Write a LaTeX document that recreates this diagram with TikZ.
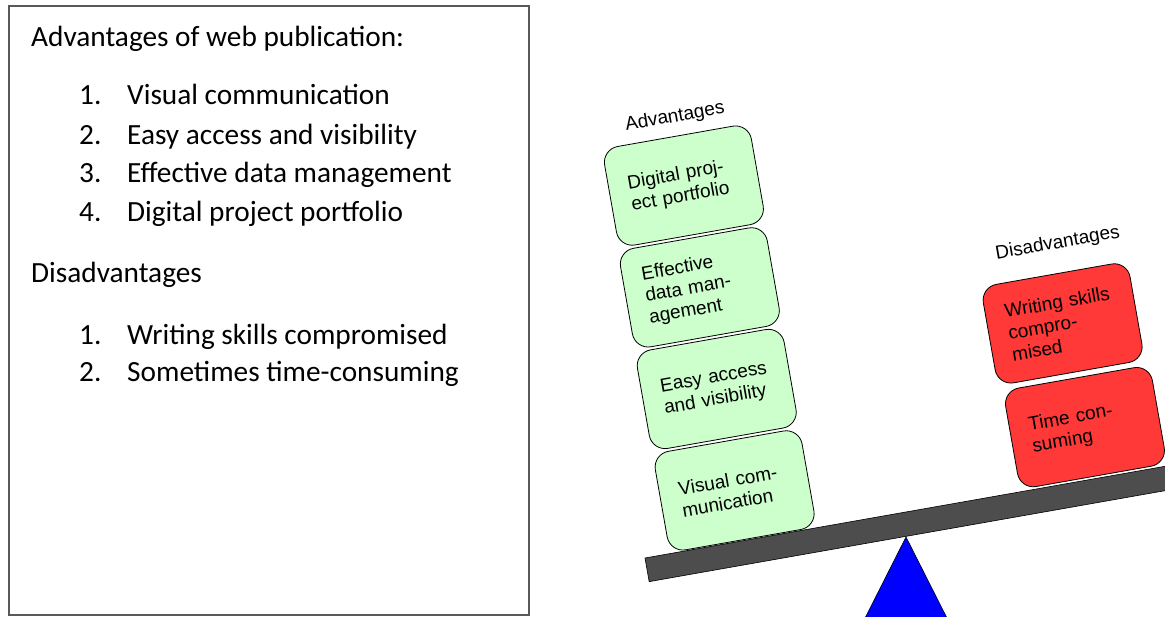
\documentclass[tikz,border=0pt]{standalone}
\usepackage{fontspec}
\newfontfamily\calfont{Carlito}
\newfontfamily\arfont{Liberation Sans}
\definecolor{advgreen}{HTML}{CCFFCC}
\definecolor{disred}{HTML}{FF3838}
\definecolor{beamgray}{HTML}{4D4D4D}
\definecolor{framegray}{HTML}{595959}
\definecolor{pivotblue}{HTML}{0000FF}

\begin{document}
\begin{tikzpicture}[x=1pt,y=1pt,
  listtext/.style={anchor=base west, inner sep=0pt,
    font=\calfont\fontsize{29.3}{34}\selectfont},
  block/.style={draw=black, line width=0.8pt, rounded corners=16pt,
    minimum width=149pt, minimum height=100pt, text width=110pt,
    align=left, inner sep=0pt, transform shape,
    font=\arfont\fontsize{19}{22}\selectfont},
  advblock/.style={block, fill=advgreen},
  disblock/.style={block, fill=disred},
  stacklabel/.style={inner sep=0pt, transform shape,
    font=\arfont\fontsize{19}{22}\selectfont}
]
\useasboundingbox (0,0) rectangle (1165,616);
\clip (0,0) rectangle (1165,616);

% text panel
\draw[framegray, line width=1.5pt] (9,1) rectangle (529,610);
\node[listtext] (title) at (31,569) {Advantages of web publication:};
\node[listtext] (a1n) at (79,511) {1.};
\node[listtext] (a1) at (127,511) {Visual communication};
\node[listtext] (a2n) at (79,471) {2.};
\node[listtext] (a2) at (127,471) {Easy access and visibility};
\node[listtext] (a3n) at (79,433) {3.};
\node[listtext] (a3) at (127,433) {Effective data management};
\node[listtext] (a4n) at (79,394) {4.};
\node[listtext] (a4) at (127,394) {Digital project portfolio};
\node[listtext] (dtitle) at (31,333) {Disadvantages};
\node[listtext] (d1n) at (79,271) {1.};
\node[listtext] (d1) at (127,271) {Writing skills compromised};
\node[listtext] (d2n) at (79,234) {2.};
\node[listtext] (d2) at (127,234) {Sometimes time-consuming};

% pivot
\fill[pivotblue, draw=black, line width=0.6pt]
  (906,79) -- (953,-14) -- (859,-14) -- cycle;

% tilted beam with the two stacks
\begin{scope}[shift={(645,58)}, rotate=10]
  \fill[beamgray, draw=black, line width=0.6pt] (0,0) rectangle (545,-24);

  \node[advblock] (visual)    at (100,51)  {Visual com-\\munication};
  \node[advblock] (easy)      at (100,154) {Easy access\\and visibility};
  \node[advblock] (effective) at (101,257) {Effective\\data man-\\agement};
  \node[advblock] (digital)   at (103,360) {Digital proj-\\ect portfolio};
  \node[stacklabel] (advlabel) at (106,429) {Advantages};

  \node[disblock] (timec)   at (456,52.5)  {Time con-\\suming};
  \node[disblock] (writing) at (452,158.5) {Writing skills\\compro-\\mised};
  \node[stacklabel] (dislabel) at (461,238) {Disadvantages};
\end{scope}
\end{tikzpicture}
\end{document}
